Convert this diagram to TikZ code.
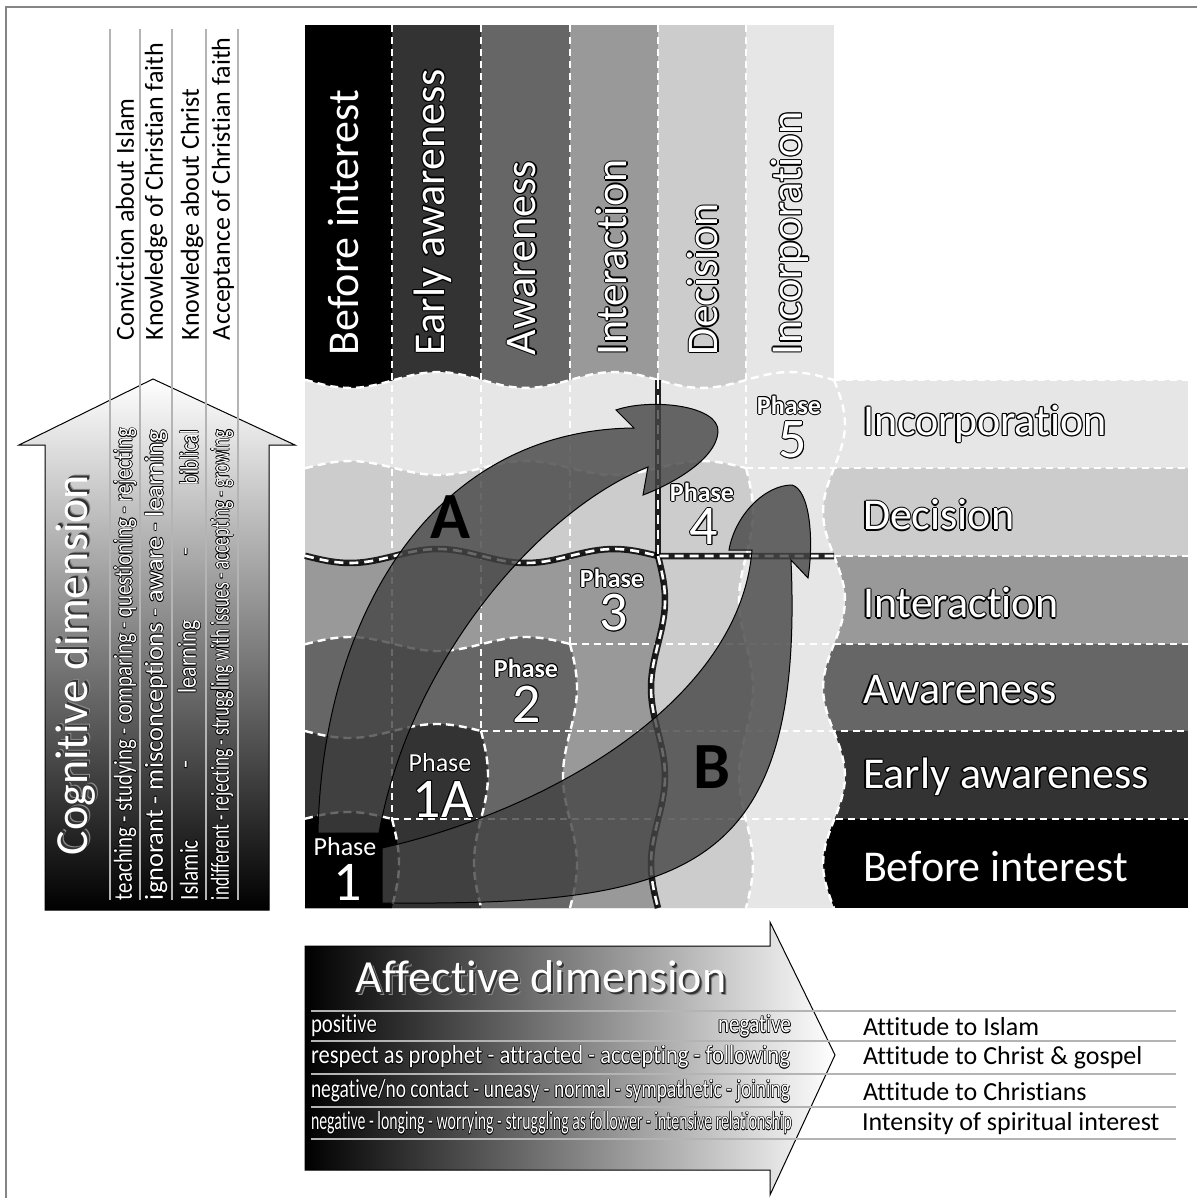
\documentclass[tikz,border=0pt]{standalone}
\usepackage{fontspec}
\setmainfont{Carlito}[Ligatures=NoCommon]
\usepackage{graphicx}

\definecolor{lvone}{HTML}{000000}
\definecolor{lvtwo}{HTML}{333333}
\definecolor{lvthree}{HTML}{666666}
\definecolor{lvfour}{HTML}{999999}
\definecolor{lvfive}{HTML}{CCCCCC}
\definecolor{lvsix}{HTML}{E6E6E6}
\definecolor{guidegray}{HTML}{B4B4B4}
\definecolor{framegray}{HTML}{858585}
\definecolor{pathgray}{HTML}{444444}

% white letters with a thin coloured rim
\newdimen\olw
\newcommand\outlined[4][1pt]{%
  \begingroup\olw=#1\relax
  \setbox0=\hbox{#4}%
  \rlap{\color{#2}\kern-\olw\copy0}%
  \rlap{\color{#2}\kern\olw\copy0}%
  \rlap{\color{#2}\raise\olw\copy0}%
  \rlap{\color{#2}\lower\olw\copy0}%
  \rlap{\color{#2}\kern-.7\olw\raise.7\olw\copy0}%
  \rlap{\color{#2}\kern.7\olw\raise.7\olw\copy0}%
  \rlap{\color{#2}\kern-.7\olw\lower.7\olw\copy0}%
  \rlap{\color{#2}\kern.7\olw\lower.7\olw\copy0}%
  {\color{#3}\copy0}%
  \endgroup}
% white letters with a soft drop shadow
\newcommand\shadowed[1]{%
  \begingroup\setbox0=\hbox{#1}%
  \rlap{\color{black!45}\kern3pt\lower3pt\copy0}%
  \rlap{\color{black!80}\kern2pt\lower2pt\copy0}%
  {\color{white}\copy0}%
  \endgroup}
% narrow outlined text squeezed to a given width
\newcommand\squeezed[2]{\resizebox{#1}{\height}{\outlined[0.7pt]{black}{white}{#2}}}
% wave factor: one full wave every 176 units
\def\wf{2.04545}

\begin{document}
\begin{tikzpicture}[x=1pt, y=-1pt,
  lbl/.style={inner sep=0pt, outer sep=0pt},
  guide/.style={guidegray, line width=2.5pt},
  gridline/.style={white, line width=2.2pt, dash pattern=on 7pt off 5pt},
  waveline/.style={white, line width=2.4pt, dash pattern=on 8pt off 5pt},
  splitback/.style={black, opacity=0.85, line width=6.5pt},
  splitfront/.style={white, line width=2.6pt, dash pattern=on 9pt off 6pt},
  pathway/.style={fill=pathgray, fill opacity=0.8, draw=black, line width=1pt},
  bigtxt/.style={lbl, font=\fontsize{44}{44}\selectfont},
  phasew/.style={lbl, font=\fontsize{26}{28}\selectfont},
  phaseb/.style={lbl, font=\fontsize{26}{28}\selectfont\bfseries},
  phasen/.style={lbl, font=\fontsize{56}{56}\selectfont},
  smalltxt/.style={lbl, font=\fontsize{26}{28}\selectfont},
  headtxt/.style={lbl, font=\fontsize{26}{28}\selectfont},
  letter/.style={lbl, font=\fontsize{66}{66}\selectfont\bfseries}]
\useasboundingbox (0,0) rectangle (1197,1198);

% outer frame
\draw[framegray, line width=2.5pt] (6,1198) -- (6,7) -- (1197,7);

% ---------- cognitive dimension (upward arrow) ----------
\shadedraw[top color=white, bottom color=black, draw=black, line width=1pt]
  (45,910) -- (45,445) -- (19,445) -- (153,379) -- (295,445) -- (269,445) -- (269,910) -- cycle;
\foreach \x in {110,140,172,206,238} \draw[guide] (\x,29) -- (\x,900);

\node[lbl, rotate=90, font=\fontsize{46}{46}\selectfont] (cogtitle) at (77,665) {\shadowed{Cognitive dimension}};

\node[headtxt, rotate=90, anchor=west] (cogh1) at (125,340) {Conviction about Islam};
\node[headtxt, rotate=90, anchor=west] (cogh2) at (156,340) {Knowledge of Christian faith};
\node[headtxt, rotate=90, anchor=west] (cogh3) at (192,340) {Knowledge about Christ};
\node[headtxt, rotate=90, anchor=west] (cogh4) at (223,340) {Acceptance of Christian faith};

\node[smalltxt, rotate=90, anchor=west] (cogr1) at (125,900)
  {\squeezed{472pt}{teaching - studying - comparing - questioning - rejecting}};
\node[smalltxt, rotate=90, anchor=west] (cogr2) at (156,900)
  {\squeezed{470pt}{ignorant - misconceptions - aware - learning}};
\node[smalltxt, rotate=90, anchor=west] (cogr3a) at (189,900) {\squeezed{60pt}{Islamic}};
\node[smalltxt, rotate=90] (cogr3b) at (189,765) {\outlined[0.7pt]{black}{white}{-}};
\node[smalltxt, rotate=90] (cogr3c) at (189,657) {\squeezed{73pt}{learning}};
\node[smalltxt, rotate=90] (cogr3d) at (189,552) {\outlined[0.7pt]{black}{white}{-}};
\node[smalltxt, rotate=90, anchor=east] (cogr3e) at (189,430) {\squeezed{55pt}{biblical}};
\node[smalltxt, rotate=90, anchor=west] (cogr4) at (222,900)
  {\squeezed{470pt}{indifferent - rejecting - struggling with issues - accepting - growing}};

% ---------- affective dimension (rightward arrow) ----------
\shadedraw[left color=black, right color=white, draw=black, line width=1pt]
  (305,946) -- (770,946) -- (770,922) -- (835,1055) -- (770,1195) -- (770,1170) -- (305,1170) -- cycle;
\foreach \y in {1011,1041,1074,1107,1139} \draw[guide] (311,\y) -- (1176,\y);

\node[lbl, font=\fontsize{46}{46}\selectfont] (afftitle) at (541,978) {\shadowed{Affective dimension}};

\node[smalltxt, anchor=west] (afr1a) at (311,1026) {\squeezed{66pt}{positive}};
\node[smalltxt, anchor=east] (afr1b) at (791,1026) {\squeezed{73pt}{negative}};
\node[smalltxt, anchor=west] (afr2) at (311,1057)
  {\squeezed{479pt}{respect as prophet - attracted - accepting - following}};
\node[smalltxt, anchor=west] (afr3) at (311,1091)
  {\squeezed{479pt}{negative/no contact - uneasy - normal - sympathetic - joining}};
\node[smalltxt, anchor=west] (afr4) at (311,1123)
  {\squeezed{481pt}{negative - longing - worrying - struggling as follower - intensive relationship}};

\node[headtxt, anchor=west] (afl1) at (863,1027) {Attitude to Islam};
\node[headtxt, anchor=west] (afl2) at (863,1058) {Attitude to Christ \& gospel};
\node[headtxt, anchor=west] (afl3) at (863,1092) {Attitude to Christians};
\node[headtxt, anchor=west] (afl4) at (862,1124) {Intensity of spiritual interest};

% ---------- stage columns (top) and stage rows (right) ----------
\foreach \xa/\xb/\cc in {305/392/lvone, 392/481/lvtwo, 481/570/lvthree, 570/658/lvfour, 658/746/lvfive, 746/834/lvsix}
  \fill[\cc] (\xa,25) rectangle (\xb,400);
\foreach \ya/\yb/\cc in {380/468/lvsix, 468/556/lvfive, 556/644/lvfour, 644/731/lvthree, 731/819/lvtwo, 819/908/lvone}
  \fill[\cc] (820,\ya) rectangle (1188,\yb);

% ---------- nested stage regions of the grid ----------
\foreach \X/\Y/\cc/\amp/\bmp in {834/380/lvsix/8/11, 746/468/lvfive/7/7, 658/556/lvfour/7/7, 570/644/lvthree/7/7, 481/731/lvtwo/7/7, 392/819/lvone/7/7}{
  \fill[\cc] (305,908) -- (305,{\Y-\amp*sin(\wf*(\X-305))})
    -- plot[domain=305:\X, samples=60, variable=\t] (\t,{\Y-\amp*sin(\wf*(\X-\t))})
    -- plot[domain=\Y:908, samples=60, variable=\t] ({\X+\bmp*sin(\wf*(\t-\Y))},\t)
    -- cycle;
}

% straight cell borders
\foreach \X/\Y in {392/819, 481/731, 570/644, 746/468}{
  \draw[gridline] (\X,25) -- (\X,\Y);
  \draw[gridline] (\X,\Y) -- (1188,\Y);
}
\draw[gridline] (658,25) -- (658,380);
\draw[gridline] (834,556) -- (1188,556);
\draw[gridline] (834,380) -- (1188,380);

% wavy stage borders
\foreach \X/\Y/\amp/\bmp in {834/380/8/11, 746/468/7/7, 570/644/7/7, 481/731/7/7, 392/819/7/7}{
  \draw[waveline] plot[domain=305:\X, samples=60, variable=\t] (\t,{\Y-\amp*sin(\wf*(\X-\t))});
  \draw[waveline] plot[domain=\Y:908, samples=60, variable=\t] ({\X+\bmp*sin(\wf*(\t-\Y))},\t);
}

% dividing border between the two pathways
\foreach \st in {splitback, splitfront}{
  \draw[\st] plot[domain=305:658, samples=60, variable=\t] (\t,{556-7*sin(\wf*(658-\t))}) -- (834,556);
  \draw[\st] (658,380) -- (658,556);
  \draw[\st] plot[domain=556:908, samples=60, variable=\t] ({658+7*sin(\wf*(\t-556))},\t);
}

% ---------- pathways B and A ----------
\draw[pathway] (382,848) .. controls (550,810) and (740,700) .. (752,550)
  -- (729,550) .. controls (735,515) and (765,485) .. (792,485)
  .. controls (810,490) and (814,540) .. (808,578)
  -- (791,560) .. controls (805,880) and (680,905) .. (382,903) -- cycle;
\draw[pathway] (318,833) .. controls (322,620) and (430,430) .. (634,428)
  -- (616,410) .. controls (650,398) and (720,405) .. (718,432)
  .. controls (716,460) and (670,485) .. (643,495)
  -- (648,467) .. controls (540,510) and (410,660) .. (379,833) -- cycle;

% ---------- stage labels ----------
\foreach \x/\txt/\nm in {344/Before interest/colA, 433/Early awareness/colB, 522/Awareness/colC, 612/Interaction/colD, 703/Decision/colE, 790/Incorporation/colF}
  \node[bigtxt, rotate=90, anchor=west] (\nm) at (\x,355) {\outlined[1.2pt]{black}{white}{\txt}};
\foreach \y/\txt/\nm in {424/Incorporation/rowF, 515/Decision/rowE, 603/Interaction/rowD, 690/Awareness/rowC, 777/Early awareness/rowB, 867/Before interest/rowA}
  \node[bigtxt, anchor=west] (\nm) at (863,\y) {\outlined[1.2pt]{black}{white}{\txt}};

% ---------- phases ----------
\node[phasew] (ph1) at (345,847) {\outlined[0.8pt]{black}{white}{Phase}};
\node[phasen] (ph1n) at (348,882) {\outlined[1pt]{black}{white}{1}};
\node[phasew] (ph1a) at (440,763) {\outlined[0.8pt]{black}{white}{Phase}};
\node[phasen] (ph1an) at (443,799) {\outlined[1pt]{black}{white}{1A}};
\node[phaseb] (ph2) at (526,668) {\outlined[1pt]{black}{white}{Phase}};
\node[phasen] (ph2n) at (527,704) {\outlined[1pt]{black}{white}{2}};
\node[phaseb] (ph3) at (612,578) {\outlined[1pt]{black}{white}{Phase}};
\node[phasen] (ph3n) at (614,613) {\outlined[1pt]{black}{white}{3}};
\node[phaseb] (ph4) at (702,492) {\outlined[1pt]{black}{white}{Phase}};
\node[phasen] (ph4n) at (704,527) {\outlined[1pt]{black}{white}{4}};
\node[phaseb] (ph5) at (789,405) {\outlined[1pt]{black}{white}{Phase}};
\node[phasen] (ph5n) at (793,440) {\outlined[1pt]{black}{white}{5}};

\node[letter] (pathA) at (450,517) {A};
\node[letter] (pathB) at (712,767) {B};
\end{tikzpicture}
\end{document}
